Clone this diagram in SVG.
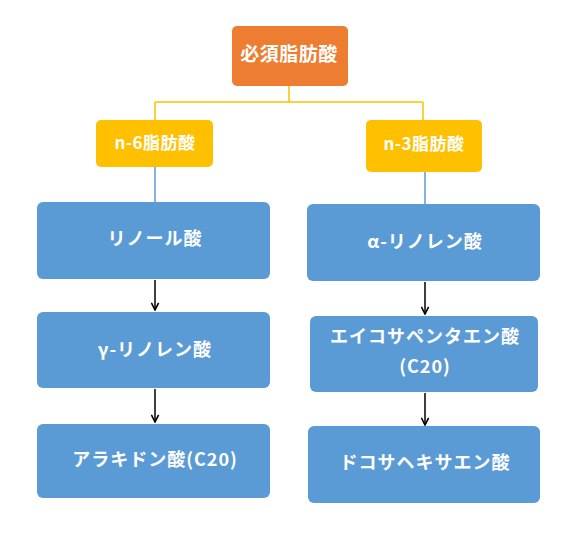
<svg xmlns="http://www.w3.org/2000/svg" width="574" height="534" viewBox="0 0 574 534">
<defs>
<style>
.t{font-family:"Noto Sans CJK JP","Noto Sans",sans-serif;font-weight:bold;fill:#fff;text-anchor:middle;dominant-baseline:central;}
.big{font-size:18px;letter-spacing:1px;}
.top{font-size:19px;letter-spacing:0.5px;}
.mid{font-size:17px;letter-spacing:0.5px;}
.blue{fill:#5B9BD5;}
.yel{fill:#FFC000;}
.ora{fill:#ED7D31;}
.yl{stroke:#FFC000;stroke-width:1.5;fill:none;}
.bl{stroke:#5B9BD5;stroke-width:1.5;fill:none;}
.ar{stroke:#000;stroke-width:1.5;fill:none;}
</style>
<marker id="ah" viewBox="0 0 10 10" refX="9" refY="5" markerWidth="9" markerHeight="9" orient="auto" markerUnits="userSpaceOnUse">
<path d="M1,1 L9,5 L1,9" fill="none" stroke="#000" stroke-width="1.8"/>
</marker>
</defs>
<rect width="574" height="534" fill="#fff"/>
<g id="connectors">
<path class="yl" d="M289,86 V102 M155,102 H423 M155,102 V120 M423,102 V120"/>
<path class="bl" d="M155,167 V202 M425,172 V204"/>
<path class="ar" d="M155,280 V310" marker-end="url(#ah)"/>
<path class="ar" d="M155,389 V422" marker-end="url(#ah)"/>
<path class="ar" d="M425,282 V314" marker-end="url(#ah)"/>
<path class="ar" d="M425,393 V425" marker-end="url(#ah)"/>
</g>
<g id="essential">
<rect class="ora" x="232" y="26" width="116" height="60" rx="5"/>
<text class="t top" x="289" y="52">必須脂肪酸</text>
</g>
<g id="n6">
<rect class="yel" x="96" y="120" width="117" height="47" rx="5"/>
<text class="t mid" x="155" y="141">n-6脂肪酸</text>
</g>
<g id="n3">
<rect class="yel" x="366" y="120" width="116" height="52" rx="5"/>
<text class="t mid" x="424" y="142">n-3脂肪酸</text>
</g>
<g id="linoleic">
<rect class="blue" x="37" y="202" width="233" height="77" rx="6"/>
<text class="t big" x="155" y="237">リノール酸</text>
</g>
<g id="gla">
<rect class="blue" x="37" y="312" width="233" height="76" rx="6"/>
<text class="t big" x="155" y="348">γ-リノレン酸</text>
</g>
<g id="aa">
<rect class="blue" x="37" y="424" width="233" height="74" rx="6"/>
<text class="t big" x="155" y="458">アラキドン酸(C20)</text>
</g>
<g id="ala">
<rect class="blue" x="307" y="204" width="233" height="77" rx="6"/>
<text class="t big" x="425" y="240">α-リノレン酸</text>
</g>
<g id="epa">
<rect class="blue" x="310" y="316" width="228" height="76" rx="6"/>
<text class="t big" x="425" y="335">エイコサペンタエン酸</text>
<text class="t big" x="425" y="365">(C20)</text>
</g>
<g id="dha">
<rect class="blue" x="308" y="426" width="232" height="77" rx="6"/>
<text class="t big" x="425" y="461">ドコサヘキサエン酸</text>
</g>
</svg>
